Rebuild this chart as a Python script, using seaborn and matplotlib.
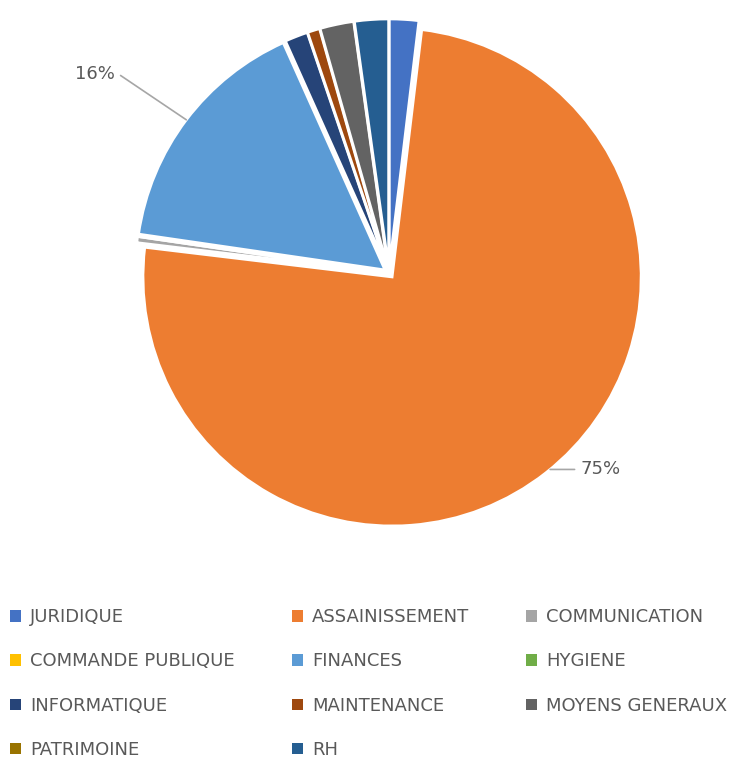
import numpy as np
import matplotlib.pyplot as plt
import seaborn as sns
from matplotlib.patches import Patch

services = ["JURIDIQUE", "ASSAINISSEMENT", "COMMUNICATION", "COMMANDE PUBLIQUE",
            "FINANCES", "HYGIENE", "INFORMATIQUE", "MAINTENANCE",
            "MOYENS GENERAUX", "PATRIMOINE", "RH"]
shares = [1.9, 75.0, 0.4, 0.0, 16.0, 0.0, 1.5, 0.8, 2.2, 0.0, 2.2]
colors = ["#4472C4", "#ED7D31", "#A5A5A5", "#FFC000", "#5B9BD5", "#70AD47",
          "#264478", "#9E480E", "#636363", "#997300", "#255E91"]
labelled = {"FINANCES": "16%", "ASSAINISSEMENT": "75%"}

sns.set_theme(style="white")
palette = sns.color_palette(colors)
text_grey = "#595959"

fig = plt.figure(figsize=(7.5, 7.6), dpi=100)
fig.patch.set_facecolor("white")
ax = fig.add_axes([115 / 750, 213 / 760, 548 / 750, 548 / 760])

wedges, _ = ax.pie(shares, colors=palette, startangle=90, counterclock=False,
                   explode=[0.02] * len(shares),
                   wedgeprops=dict(edgecolor="white", linewidth=2))
ax.set_xlim(-1.1, 1.1)
ax.set_ylim(-1.1, 1.1)
ax.set_aspect("equal")
ax.axis("off")

# percentage labels with leader lines
for w, name in zip(wedges, services):
    if name not in labelled:
        continue
    ang = np.deg2rad((w.theta1 + w.theta2) / 2)
    if name == "FINANCES":
        x, y = 1.02 * np.cos(ang), 1.02 * np.sin(ang)
        xt, yt = -1.18, 0.80
        cs = "angle,angleA=0,angleB=-34,rad=0"
    else:
        ang += np.deg2rad(1.2)
        x, y = 1.02 * np.cos(ang), 1.02 * np.sin(ang)
        xt, yt = 0.85, y
        cs = "arc3"
    ax.annotate(labelled[name], xy=(x, y), xytext=(xt, yt), ha="center", va="center",
                fontsize=13, color=text_grey,
                arrowprops=dict(arrowstyle="-", color="#A6A6A6", lw=1.2,
                                connectionstyle=cs, shrinkA=2, shrinkB=0))

# legend laid out row by row in three columns
handles = [Patch(facecolor=c, edgecolor="none") for c in palette]
col_x = [-6 / 750, 276 / 750, 510 / 750]
for j in range(3):
    idx = list(range(j, len(services), 3))
    fig.legend([handles[i] for i in idx], [services[i] for i in idx],
               loc="upper left", bbox_to_anchor=(col_x[j], 168 / 760),
               frameon=False, fontsize=13, handlelength=0.6, handleheight=0.6,
               handletextpad=0.5, labelspacing=1.45, labelcolor=text_grey)

fig.savefig("out.png", dpi=100, facecolor="white")
